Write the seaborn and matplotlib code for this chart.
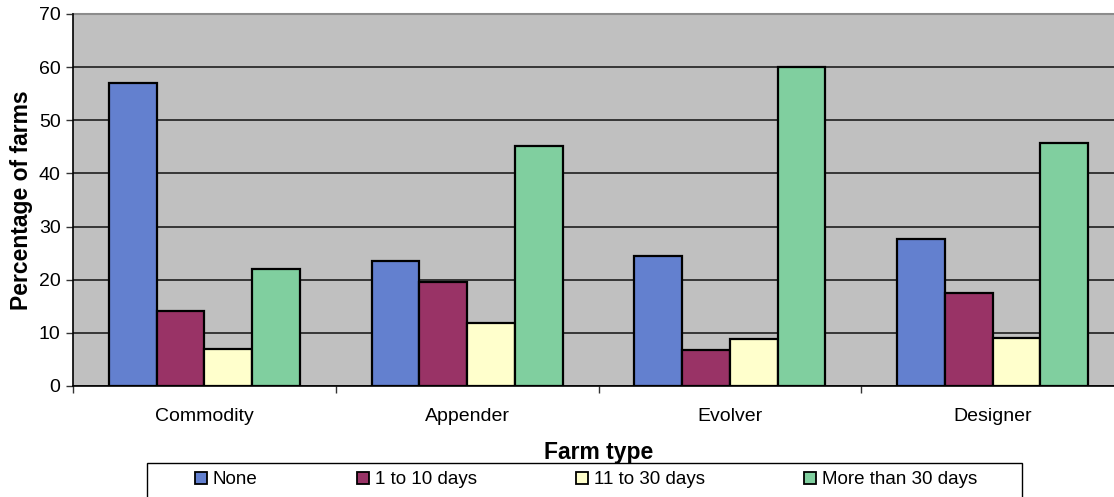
import matplotlib
matplotlib.use("Agg")
import matplotlib.pyplot as plt
from matplotlib.patches import Rectangle
import numpy as np
import pandas as pd
import seaborn as sns

farm_types = ["Commodity", "Appender", "Evolver", "Designer"]
durations = ["None", "1 to 10 days", "11 to 30 days", "More than 30 days"]
none_pct = [57.1, 23.5, 24.5, 27.7]
days_1_10 = [14.1, 19.6, 6.7, 17.5]
days_11_30 = [6.9, 11.8, 8.9, 9.1]
days_over_30 = [22.0, 45.1, 60.0, 45.8]
colors = ["#6380CF", "#993366", "#FFFFCC", "#80CF9F"]

df = pd.DataFrame({
    "Farm type": np.repeat(farm_types, len(durations)),
    "Duration": durations * len(farm_types),
    "Percentage": np.ravel(np.column_stack([none_pct, days_1_10, days_11_30, days_over_30])),
})

sns.set_theme(style="white")
plt.rcParams["font.family"] = ["Liberation Sans", "DejaVu Sans"]
plt.rcParams["text.color"] = "black"
plt.rcParams["axes.labelcolor"] = "black"

W, H = 1114, 497
fig = plt.figure(figsize=(W / 100, H / 100), dpi=100)
ax = fig.add_axes([73 / W, (H - 386) / H, 1051 / W, 372 / H])
ax.set_facecolor("#C0C0C0")

sns.barplot(data=df, x="Farm type", y="Percentage", hue="Duration",
            order=farm_types, hue_order=durations, palette=colors,
            width=0.727, saturation=1, edgecolor="black", linewidth=1.6,
            legend=False, ax=ax, zorder=3)

ax.set_xlim(-0.5, 3.5)
ax.set_ylim(0, 70)
ax.set_yticks(range(0, 71, 10))
ax.yaxis.grid(True, color="#111111", linewidth=1.1, zorder=1)
ax.set_axisbelow(True)
ax.xaxis.grid(False)

# category boundary ticks on x
ax.set_xticks([-0.5, 0.5, 1.5, 2.5], minor=True)
ax.tick_params(axis="x", which="minor", length=5, width=1, color="#333333", direction="out", bottom=True)
ax.tick_params(axis="x", which="major", length=0, labelsize=14, pad=16, colors="black")
ax.tick_params(axis="y", which="major", length=5, width=1, color="#333333", direction="out", left=True,
               labelsize=14, pad=4, colors="black")

for side in ["left", "bottom"]:
    ax.spines[side].set_color("black")
    ax.spines[side].set_linewidth(1.2)
    ax.spines[side].set_zorder(4)
ax.spines["top"].set_color("#8C8C8C")
ax.spines["top"].set_linewidth(1.5)
ax.spines["right"].set_visible(False)

ax.set_xlabel("Farm type", fontsize=16.5, fontweight="bold", labelpad=11)
ax.set_ylabel("Percentage of farms", fontsize=16.5, fontweight="bold", labelpad=4)

# legend row inside a framed box below the axes
fig.patches.append(Rectangle((147 / W, -0.01), (1022 - 147) / W, (H - 463) / H + 0.01,
                             transform=fig.transFigure, facecolor="white",
                             edgecolor="black", linewidth=1.0))
handles = [Rectangle((0, 0), 1, 1, facecolor=c, edgecolor="black", linewidth=1.3) for c in colors]
fig.legend(handles, durations, loc="center", ncol=4, mode="expand", frameon=False,
           bbox_to_anchor=(195 / W, (H - 497) / H, (977 - 195) / W, (497 - 463) / H),
           fontsize=13.5, handlelength=0.65, handleheight=0.65, handletextpad=0.3,
           borderpad=0, borderaxespad=0)

fig.savefig("out.png", dpi=100)
